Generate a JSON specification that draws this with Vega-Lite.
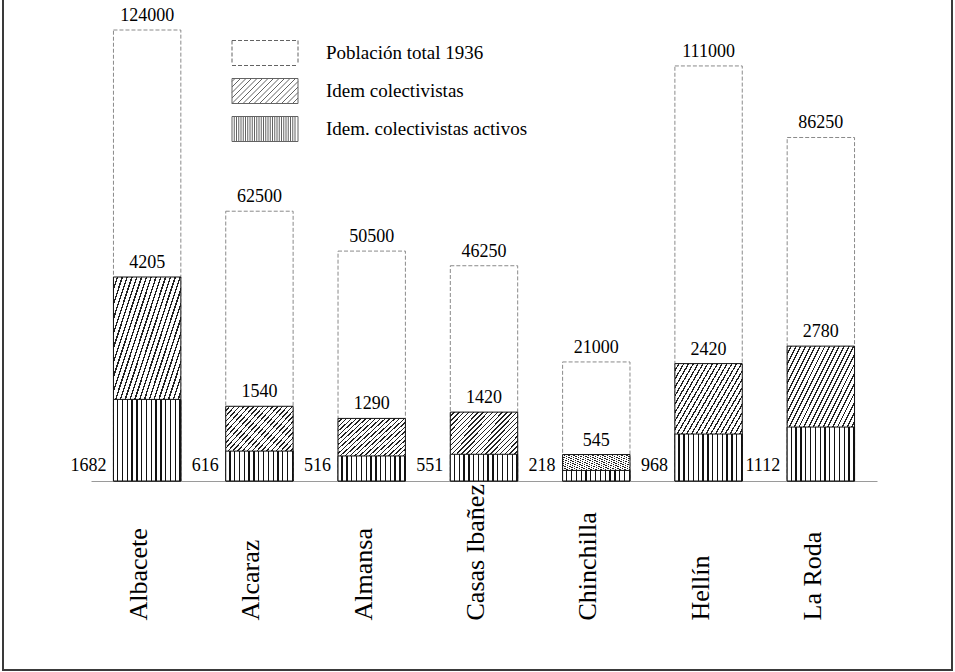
{
  "$schema": "https://vega.github.io/schema/vega-lite/v6.json",
  "autosize": "none",
  "width": 949,
  "height": 673,
  "padding": {"left": 3, "right": 3, "top": -3, "bottom": 2},
  "background": "#ffffff",
  "data": {"values": [
    {"ciudad": "Albacete", "total": 124000, "colectivistas": 4205, "activos": 1682},
    {"ciudad": "Alcaraz", "total": 62500, "colectivistas": 1540, "activos": 616},
    {"ciudad": "Almansa", "total": 50500, "colectivistas": 1290, "activos": 516},
    {"ciudad": "Casas Ibañez", "total": 46250, "colectivistas": 1420, "activos": 551},
    {"ciudad": "Chinchilla", "total": 21000, "colectivistas": 545, "activos": 218},
    {"ciudad": "Hellín", "total": 111000, "colectivistas": 2420, "activos": 968},
    {"ciudad": "La Roda", "total": 86250, "colectivistas": 2780, "activos": 1112}
  ]},
  "encoding": {
    "x": {"field": "ciudad", "type": "nominal", "sort": null, "title": null,
      "scale": {"range": [88, 874], "paddingInner": 0.4, "paddingOuter": 0.2}}
  },
  "layer": [
    {
      "mark": {"type": "bar", "fill": "#ffffff", "stroke": "#8a8a8a", "strokeWidth": 1, "strokeDash": [4, 2]},
      "encoding": {
        "y": {"field": "total", "type": "quantitative", "axis": null,
          "scale": {"type": "pow", "exponent": 0.75, "domain": [0, 124000], "range": [484, 33], "nice": false}}
      }
    },
    {
      "mark": {"type": "text", "baseline": "alphabetic", "dy": -9, "font": "Liberation Serif, Times New Roman, serif", "fontSize": 18, "color": "#000000"},
      "encoding": {
        "y": {"field": "total", "type": "quantitative", "axis": null,
          "scale": {"type": "pow", "exponent": 0.75, "domain": [0, 124000], "range": [484, 33], "nice": false}},
        "text": {"field": "total", "type": "quantitative", "format": "d"}
      }
    },
    {
      "mark": {"type": "bar", "stroke": "#111111", "strokeWidth": 1,
        "fill": {"gradient": "linear", "x1": 0, "y1": 0, "x2": 1, "y2": 1, "stops": [
          {"offset": 0, "color": "#ffffff"}, {"offset": 0.025, "color": "#ffffff"}, {"offset": 0.025, "color": "#222222"}, {"offset": 0.0357, "color": "#222222"},
          {"offset": 0.0357, "color": "#ffffff"}, {"offset": 0.0607, "color": "#ffffff"}, {"offset": 0.0607, "color": "#222222"}, {"offset": 0.0714, "color": "#222222"},
          {"offset": 0.0714, "color": "#ffffff"}, {"offset": 0.0964, "color": "#ffffff"}, {"offset": 0.0964, "color": "#222222"}, {"offset": 0.1071, "color": "#222222"},
          {"offset": 0.1071, "color": "#ffffff"}, {"offset": 0.1321, "color": "#ffffff"}, {"offset": 0.1321, "color": "#222222"}, {"offset": 0.1429, "color": "#222222"},
          {"offset": 0.1429, "color": "#ffffff"}, {"offset": 0.1679, "color": "#ffffff"}, {"offset": 0.1679, "color": "#222222"}, {"offset": 0.1786, "color": "#222222"},
          {"offset": 0.1786, "color": "#ffffff"}, {"offset": 0.2036, "color": "#ffffff"}, {"offset": 0.2036, "color": "#222222"}, {"offset": 0.2143, "color": "#222222"},
          {"offset": 0.2143, "color": "#ffffff"}, {"offset": 0.2393, "color": "#ffffff"}, {"offset": 0.2393, "color": "#222222"}, {"offset": 0.25, "color": "#222222"},
          {"offset": 0.25, "color": "#ffffff"}, {"offset": 0.275, "color": "#ffffff"}, {"offset": 0.275, "color": "#222222"}, {"offset": 0.2857, "color": "#222222"},
          {"offset": 0.2857, "color": "#ffffff"}, {"offset": 0.3107, "color": "#ffffff"}, {"offset": 0.3107, "color": "#222222"}, {"offset": 0.3214, "color": "#222222"},
          {"offset": 0.3214, "color": "#ffffff"}, {"offset": 0.3464, "color": "#ffffff"}, {"offset": 0.3464, "color": "#222222"}, {"offset": 0.3571, "color": "#222222"},
          {"offset": 0.3571, "color": "#ffffff"}, {"offset": 0.3821, "color": "#ffffff"}, {"offset": 0.3821, "color": "#222222"}, {"offset": 0.3929, "color": "#222222"},
          {"offset": 0.3929, "color": "#ffffff"}, {"offset": 0.4179, "color": "#ffffff"}, {"offset": 0.4179, "color": "#222222"}, {"offset": 0.4286, "color": "#222222"},
          {"offset": 0.4286, "color": "#ffffff"}, {"offset": 0.4536, "color": "#ffffff"}, {"offset": 0.4536, "color": "#222222"}, {"offset": 0.4643, "color": "#222222"},
          {"offset": 0.4643, "color": "#ffffff"}, {"offset": 0.4893, "color": "#ffffff"}, {"offset": 0.4893, "color": "#222222"}, {"offset": 0.5, "color": "#222222"},
          {"offset": 0.5, "color": "#ffffff"}, {"offset": 0.525, "color": "#ffffff"}, {"offset": 0.525, "color": "#222222"}, {"offset": 0.5357, "color": "#222222"},
          {"offset": 0.5357, "color": "#ffffff"}, {"offset": 0.5607, "color": "#ffffff"}, {"offset": 0.5607, "color": "#222222"}, {"offset": 0.5714, "color": "#222222"},
          {"offset": 0.5714, "color": "#ffffff"}, {"offset": 0.5964, "color": "#ffffff"}, {"offset": 0.5964, "color": "#222222"}, {"offset": 0.6071, "color": "#222222"},
          {"offset": 0.6071, "color": "#ffffff"}, {"offset": 0.6321, "color": "#ffffff"}, {"offset": 0.6321, "color": "#222222"}, {"offset": 0.6429, "color": "#222222"},
          {"offset": 0.6429, "color": "#ffffff"}, {"offset": 0.6679, "color": "#ffffff"}, {"offset": 0.6679, "color": "#222222"}, {"offset": 0.6786, "color": "#222222"},
          {"offset": 0.6786, "color": "#ffffff"}, {"offset": 0.7036, "color": "#ffffff"}, {"offset": 0.7036, "color": "#222222"}, {"offset": 0.7143, "color": "#222222"},
          {"offset": 0.7143, "color": "#ffffff"}, {"offset": 0.7393, "color": "#ffffff"}, {"offset": 0.7393, "color": "#222222"}, {"offset": 0.75, "color": "#222222"},
          {"offset": 0.75, "color": "#ffffff"}, {"offset": 0.775, "color": "#ffffff"}, {"offset": 0.775, "color": "#222222"}, {"offset": 0.7857, "color": "#222222"},
          {"offset": 0.7857, "color": "#ffffff"}, {"offset": 0.8107, "color": "#ffffff"}, {"offset": 0.8107, "color": "#222222"}, {"offset": 0.8214, "color": "#222222"},
          {"offset": 0.8214, "color": "#ffffff"}, {"offset": 0.8464, "color": "#ffffff"}, {"offset": 0.8464, "color": "#222222"}, {"offset": 0.8571, "color": "#222222"},
          {"offset": 0.8571, "color": "#ffffff"}, {"offset": 0.8821, "color": "#ffffff"}, {"offset": 0.8821, "color": "#222222"}, {"offset": 0.8929, "color": "#222222"},
          {"offset": 0.8929, "color": "#ffffff"}, {"offset": 0.9179, "color": "#ffffff"}, {"offset": 0.9179, "color": "#222222"}, {"offset": 0.9286, "color": "#222222"},
          {"offset": 0.9286, "color": "#ffffff"}, {"offset": 0.9536, "color": "#ffffff"}, {"offset": 0.9536, "color": "#222222"}, {"offset": 0.9643, "color": "#222222"},
          {"offset": 0.9643, "color": "#ffffff"}, {"offset": 0.9893, "color": "#ffffff"}, {"offset": 0.9893, "color": "#222222"}, {"offset": 1, "color": "#222222"}
        ]}},
      "encoding": {
        "y": {"field": "colectivistas", "type": "quantitative", "axis": null,
          "scale": {"domain": [0, 4205], "range": [484, 280], "nice": false}}
      }
    },
    {
      "mark": {"type": "text", "baseline": "alphabetic", "dy": -9, "font": "Liberation Serif, Times New Roman, serif", "fontSize": 18, "color": "#000000"},
      "encoding": {
        "y": {"field": "colectivistas", "type": "quantitative", "axis": null,
          "scale": {"domain": [0, 4205], "range": [484, 280], "nice": false}},
        "text": {"field": "colectivistas", "type": "quantitative", "format": "d"}
      }
    },
    {
      "mark": {"type": "bar", "stroke": "#111111", "strokeWidth": 1,
        "fill": {"gradient": "linear", "x1": 0, "y1": 0, "x2": 1, "y2": 0, "stops": [
          {"offset": 0, "color": "#ffffff"}, {"offset": 0.0514, "color": "#ffffff"}, {"offset": 0.0514, "color": "#111111"}, {"offset": 0.0714, "color": "#111111"},
          {"offset": 0.0714, "color": "#ffffff"}, {"offset": 0.1229, "color": "#ffffff"}, {"offset": 0.1229, "color": "#111111"}, {"offset": 0.1429, "color": "#111111"},
          {"offset": 0.1429, "color": "#ffffff"}, {"offset": 0.1943, "color": "#ffffff"}, {"offset": 0.1943, "color": "#111111"}, {"offset": 0.2143, "color": "#111111"},
          {"offset": 0.2143, "color": "#ffffff"}, {"offset": 0.2657, "color": "#ffffff"}, {"offset": 0.2657, "color": "#111111"}, {"offset": 0.2857, "color": "#111111"},
          {"offset": 0.2857, "color": "#ffffff"}, {"offset": 0.3371, "color": "#ffffff"}, {"offset": 0.3371, "color": "#111111"}, {"offset": 0.3571, "color": "#111111"},
          {"offset": 0.3571, "color": "#ffffff"}, {"offset": 0.4086, "color": "#ffffff"}, {"offset": 0.4086, "color": "#111111"}, {"offset": 0.4286, "color": "#111111"},
          {"offset": 0.4286, "color": "#ffffff"}, {"offset": 0.48, "color": "#ffffff"}, {"offset": 0.48, "color": "#111111"}, {"offset": 0.5, "color": "#111111"},
          {"offset": 0.5, "color": "#ffffff"}, {"offset": 0.5514, "color": "#ffffff"}, {"offset": 0.5514, "color": "#111111"}, {"offset": 0.5714, "color": "#111111"},
          {"offset": 0.5714, "color": "#ffffff"}, {"offset": 0.6229, "color": "#ffffff"}, {"offset": 0.6229, "color": "#111111"}, {"offset": 0.6429, "color": "#111111"},
          {"offset": 0.6429, "color": "#ffffff"}, {"offset": 0.6943, "color": "#ffffff"}, {"offset": 0.6943, "color": "#111111"}, {"offset": 0.7143, "color": "#111111"},
          {"offset": 0.7143, "color": "#ffffff"}, {"offset": 0.7657, "color": "#ffffff"}, {"offset": 0.7657, "color": "#111111"}, {"offset": 0.7857, "color": "#111111"},
          {"offset": 0.7857, "color": "#ffffff"}, {"offset": 0.8371, "color": "#ffffff"}, {"offset": 0.8371, "color": "#111111"}, {"offset": 0.8571, "color": "#111111"},
          {"offset": 0.8571, "color": "#ffffff"}, {"offset": 0.9086, "color": "#ffffff"}, {"offset": 0.9086, "color": "#111111"}, {"offset": 0.9286, "color": "#111111"},
          {"offset": 0.9286, "color": "#ffffff"}, {"offset": 0.98, "color": "#ffffff"}, {"offset": 0.98, "color": "#111111"}, {"offset": 1, "color": "#111111"}
        ]}},
      "encoding": {
        "y": {"field": "activos", "type": "quantitative", "axis": null,
          "scale": {"domain": [0, 4205], "range": [484, 280], "nice": false}}
      }
    },
    {
      "mark": {"type": "text", "baseline": "alphabetic", "align": "right", "dx": -7, "dy": -10, "font": "Liberation Serif, Times New Roman, serif", "fontSize": 18, "color": "#000000"},
      "encoding": {
        "x": {"field": "ciudad", "type": "nominal", "sort": null, "bandPosition": 0, "title": null},
        "y": {"datum": 0, "type": "quantitative", "axis": null,
          "scale": {"domain": [0, 4205], "range": [484, 280], "nice": false}},
        "text": {"field": "activos", "type": "quantitative", "format": "d"}
      }
    },
    {
      "transform": [{"filter": "false"}],
      "mark": {"type": "point", "filled": false, "color": "#111111", "strokeWidth": 1},
      "encoding": {
        "shape": {"datum": "Población total 1936", "type": "nominal",
          "scale": {"domain": ["Población total 1936", "Idem colectivistas", "Idem. colectivistas activos"],
            "range": [
              "M-2.64,-1H-2.32M-2.16,-1H-1.84M-1.68,-1H-1.36M-1.2,-1H-0.88M-0.72,-1H-0.4M-0.24,-1H0.08M0.24,-1H0.56M0.72,-1H1.04M1.2,-1H1.52M1.68,-1H2M2.16,-1H2.48M-2.64,1H-2.32M-2.16,1H-1.84M-1.68,1H-1.36M-1.2,1H-0.88M-0.72,1H-0.4M-0.24,1H0.08M0.24,1H0.56M0.72,1H1.04M1.2,1H1.52M1.68,1H2M2.16,1H2.48M-2.64,-1V-0.68M-2.64,-0.52V-0.2M-2.64,-0.04V0.28M-2.64,0.44V0.76M2.64,-1V-0.68M2.64,-0.52V-0.2M2.64,-0.04V0.28M2.64,0.44V0.76",
              "M-2.64,-1H2.64V1H-2.64Z M-2.64,-0.76L-2.4,-1 M-2.64,-0.32L-1.96,-1 M-2.64,0.12L-1.52,-1 M-2.64,0.56L-1.08,-1 M-2.64,1L-0.64,-1 M-2.2,1L-0.2,-1 M-1.76,1L0.24,-1 M-1.32,1L0.68,-1 M-0.88,1L1.12,-1 M-0.44,1L1.56,-1 M0,1L2,-1 M0.44,1L2.44,-1 M0.88,1L2.64,-0.76 M1.32,1L2.64,-0.32 M1.76,1L2.64,0.12 M2.2,1L2.64,0.56",
              "M-2.64,-1H2.64V1H-2.64Z M-2.46,-1V1 M-2.28,-1V1 M-2.1,-1V1 M-1.92,-1V1 M-1.74,-1V1 M-1.56,-1V1 M-1.38,-1V1 M-1.2,-1V1 M-1.02,-1V1 M-0.84,-1V1 M-0.66,-1V1 M-0.48,-1V1 M-0.3,-1V1 M-0.12,-1V1 M0.06,-1V1 M0.24,-1V1 M0.42,-1V1 M0.6,-1V1 M0.78,-1V1 M0.96,-1V1 M1.14,-1V1 M1.32,-1V1 M1.5,-1V1 M1.68,-1V1 M1.86,-1V1 M2.04,-1V1 M2.22,-1V1 M2.4,-1V1"
            ]},
          "legend": {
            "title": null, "orient": "none", "legendX": 249, "legendY": 43, "padding": 0,
            "symbolSize": 625, "symbolStrokeColor": "#222222", "symbolStrokeWidth": 1, "symbolFillColor": "transparent",
            "labelOffset": 48, "rowPadding": 8,
            "labelFont": "Liberation Serif, Times New Roman, serif", "labelFontSize": 19, "labelColor": "#000000", "labelLimit": 400
          }}
      }
    }
  ],
  "resolve": {"scale": {"y": "independent"}, "axis": {"y": "independent"}},
  "config": {
    "font": "Liberation Serif, Times New Roman, serif",
    "view": {"stroke": "#3a3a3a", "strokeWidth": 2},
    "axisX": {
      "domainColor": "#9a9a9a", "domainWidth": 1, "ticks": false, "tickSize": 0, "grid": false,
      "labelAngle": 270, "labelAlign": "left", "labelBaseline": "alphabetic", "labelPadding": 139,
      "labelFont": "Liberation Serif, Times New Roman, serif", "labelFontSize": 26, "labelColor": "#000000",
      "labelOverlap": false, "labelLimit": 300, "offset": -189
    }
  }
}
